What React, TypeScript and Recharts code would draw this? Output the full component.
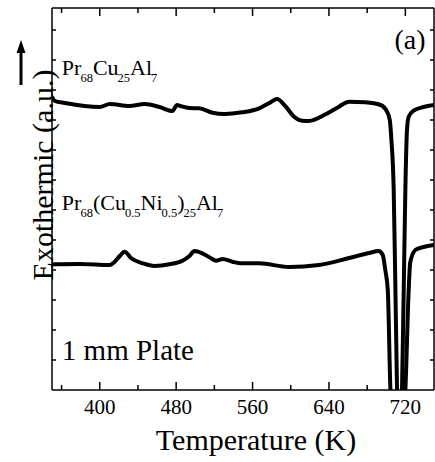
import { Line, LineChart, ReferenceDot, XAxis, YAxis } from 'recharts';

const FONT = '"Liberation Serif", "Times New Roman", serif';

// DSC trace, Pr68Cu25Al7 (upper curve)
const tempA = [350, 353, 363.5, 400, 410.4, 431, 447, 462.6, 476, 481, 484.5, 494, 504, 518, 530.4, 549, 567, 577, 585.7, 594.8, 603.5, 612, 619, 636.5, 650.4, 661, 678, 694, 700.8, 703.7, 705.4, 707.8, 709.6, 711.3, 714, 716.5, 718.3, 720, 721.7, 723.5, 728.7, 739, 750];
const heatA = [293, 289, 287, 283, 286, 284, 286, 283, 279, 285, 284, 282, 281.7, 277.3, 276, 277.7, 281.7, 286.7, 291, 283.3, 273.3, 269.3, 269, 275.7, 283.3, 288.3, 287.7, 285, 278.3, 270, 250, 200, 100, 0, -80, 0, 100, 200, 260, 273.3, 279.3, 283, 285];

// DSC trace, Pr68(Cu0.5Ni0.5)25Al7 (lower curve)
const tempB = [350, 379, 410.4, 415.7, 421, 426, 433, 445, 457.4, 473, 486.6, 494, 499, 507.5, 516.6, 521.7, 528.7, 538.8, 547.9, 567, 598, 629.6, 661, 682, 692, 696.3, 699, 701.6, 704.4, 712, 720, 723.5, 725, 730.4, 739, 750];
const heatB = [125.7, 126, 125, 128.3, 134, 138.3, 131.7, 126.7, 124, 125.7, 129.3, 134, 139, 136.7, 131.7, 129.3, 131, 128.3, 126.7, 126.7, 123, 125, 132, 137, 139, 135, 120, 100, 0, -80, 0, 100, 127, 140, 143, 145];

const majorTicks = [400, 480, 560, 640, 720];
const minorTicks = [360, 440, 520, 600, 680];
const xTicks = [...minorTicks, ...majorTicks].sort((a, b) => a - b);
const yTicks = [30, 60, 90, 120, 150, 180, 210, 240, 270, 300, 330, 360];

const nameA = [['Pr', false], ['68', true], ['Cu', false], ['25', true], ['Al', false], ['7', true]] as [string, boolean][];
const nameB = [['Pr', false], ['68', true], ['(Cu', false], ['0.5', true], ['Ni', false], ['0.5', true], [')', false], ['25', true], ['Al', false], ['7', true]] as [string, boolean][];

const curveA = tempA.map((t, i) => ({ t, v: heatA[i] }));
const curveB = tempB.map((t, i) => ({ t, v: heatB[i] }));

const BottomTick = ({ x, y, payload }: any) => {
  const major = majorTicks.includes(payload.value);
  return (
    <g>
      <line x1={x} y1={y} x2={x} y2={y - (major ? 8 : 5)} stroke="#000" strokeWidth={1.5} />
      {major && (
        <text x={x} y={y + 24} textAnchor="middle" fontSize={21} fontFamily={FONT} fill="#000">
          {payload.value}
        </text>
      )}
    </g>
  );
};

const TopTick = ({ x, y, payload }: any) => {
  const major = majorTicks.includes(payload.value);
  return <line x1={x} y1={y} x2={x} y2={y + (major ? 8 : 5)} stroke="#000" strokeWidth={1.5} />;
};

const LeftTick = ({ x, y }: any) => <line x1={x} y1={y} x2={x + 4} y2={y} stroke="#000" strokeWidth={1.5} />;
const RightTick = ({ x, y }: any) => <line x1={x} y1={y} x2={x - 4} y2={y} stroke="#000" strokeWidth={1.5} />;

const renderYTitle = ({ viewBox }: any) => {
  const edge = viewBox.x + viewBox.width;
  const cx = edge + 1;
  const cy = viewBox.y + viewBox.height / 2 - 24;
  const ax = edge - 31;
  const tip = viewBox.y + 32;
  return (
    <g>
      <line x1={ax} y1={tip + 10} x2={ax} y2={tip + 45} stroke="#000" strokeWidth={3} />
      <polygon points={`${ax},${tip} ${ax - 4.5},${tip + 13} ${ax + 4.5},${tip + 13}`} fill="#000" />
      <text x={cx} y={cy} transform={`rotate(-90, ${cx}, ${cy})`} textAnchor="middle" fontSize={30} fontFamily={FONT} fill="#000">
        Exothermic (a.u.)
      </text>
    </g>
  );
};

const renderXTitle = ({ viewBox }: any) => (
  <text x={viewBox.x + viewBox.width / 2 + 13} y={viewBox.y + 60} textAnchor="middle" fontSize={30} fontFamily={FONT} fill="#000">
    Temperature (K)
  </text>
);

// chemical formula with subscripted stoichiometry
const Formula = ({ x, y, parts }: { x: number; y: number; parts: [string, boolean][] }) => {
  let prevSub = false;
  return (
    <text x={x} y={y} fontFamily={FONT} fill="#000">
      {parts.map(([s, sub], i) => {
        const dy = sub === prevSub ? 0 : sub ? 7 : -7;
        prevSub = sub;
        return (
          <tspan key={i} dy={dy} dx={sub ? -1 : 0} fontSize={sub ? 12.5 : 22}>
            {s}
          </tspan>
        );
      })}
    </text>
  );
};

const formulaLabel = (parts: [string, boolean][]) => ({ viewBox }: any) => (
  <Formula x={viewBox.x} y={viewBox.y} parts={parts} />
);

const plainLabel = (text: string, size: number, anchor: 'start' | 'end') => ({ viewBox }: any) => (
  <text x={viewBox.x} y={viewBox.y} textAnchor={anchor} fontSize={size} fontFamily={FONT} fill="#000">
    {text}
  </text>
);

const axisLine = { stroke: '#000', strokeWidth: 1.5 };

export default function App() {
  return (
    <div style={{ position: 'absolute', left: 0, top: 0 }}>
      <LineChart width={435} height={462} margin={{ top: 7, right: 0, bottom: 0, left: 51 }}>
        <XAxis
          xAxisId="b"
          dataKey="t"
          type="number"
          domain={[350, 750]}
          allowDataOverflow
          ticks={xTicks}
          interval={0}
          height={72}
          tickSize={0}
          tickMargin={0}
          tick={<BottomTick />}
          tickLine={false}
          axisLine={axisLine}
          label={{ content: renderXTitle }}
        />
        <XAxis
          xAxisId="top"
          orientation="top"
          dataKey="t"
          type="number"
          domain={[350, 750]}
          allowDataOverflow
          ticks={xTicks}
          interval={0}
          height={1}
          tickSize={0}
          tickMargin={0}
          tick={<TopTick />}
          tickLine={false}
          axisLine={axisLine}
        />
        <YAxis
          yAxisId="l"
          type="number"
          domain={[0, 382]}
          allowDataOverflow
          ticks={yTicks}
          interval={0}
          width={1}
          tickSize={0}
          tickMargin={0}
          tick={<LeftTick />}
          tickLine={false}
          axisLine={axisLine}
          label={{ content: renderYTitle }}
        />
        <YAxis
          yAxisId="r"
          orientation="right"
          type="number"
          domain={[0, 382]}
          allowDataOverflow
          ticks={yTicks}
          interval={0}
          width={1}
          tickSize={0}
          tickMargin={0}
          tick={<RightTick />}
          tickLine={false}
          axisLine={axisLine}
        />
        <Line
          xAxisId="b"
          yAxisId="l"
          data={curveA}
          dataKey="v"
          type="monotone"
          stroke="#000"
          strokeWidth={4}
          strokeLinejoin="round"
          dot={false}
          isAnimationActive={false}
        />
        <Line
          xAxisId="b"
          yAxisId="l"
          data={curveB}
          dataKey="v"
          type="monotone"
          stroke="#000"
          strokeWidth={4}
          strokeLinejoin="round"
          dot={false}
          isAnimationActive={false}
        />
        <ReferenceDot xAxisId="b" yAxisId="l" x={360.3} y={315} r={0} ifOverflow="visible" label={{ content: formulaLabel(nameA) }} />
        <ReferenceDot xAxisId="b" yAxisId="l" x={360.3} y={180} r={0} ifOverflow="visible" label={{ content: formulaLabel(nameB) }} />
        <ReferenceDot xAxisId="b" yAxisId="l" x={741.2} y={341} r={0} ifOverflow="visible" label={{ content: plainLabel('(a)', 28, 'end') }} />
        <ReferenceDot xAxisId="b" yAxisId="l" x={360.3} y={30} r={0} ifOverflow="visible" label={{ content: plainLabel('1 mm Plate', 29, 'start') }} />
      </LineChart>
    </div>
  );
}
